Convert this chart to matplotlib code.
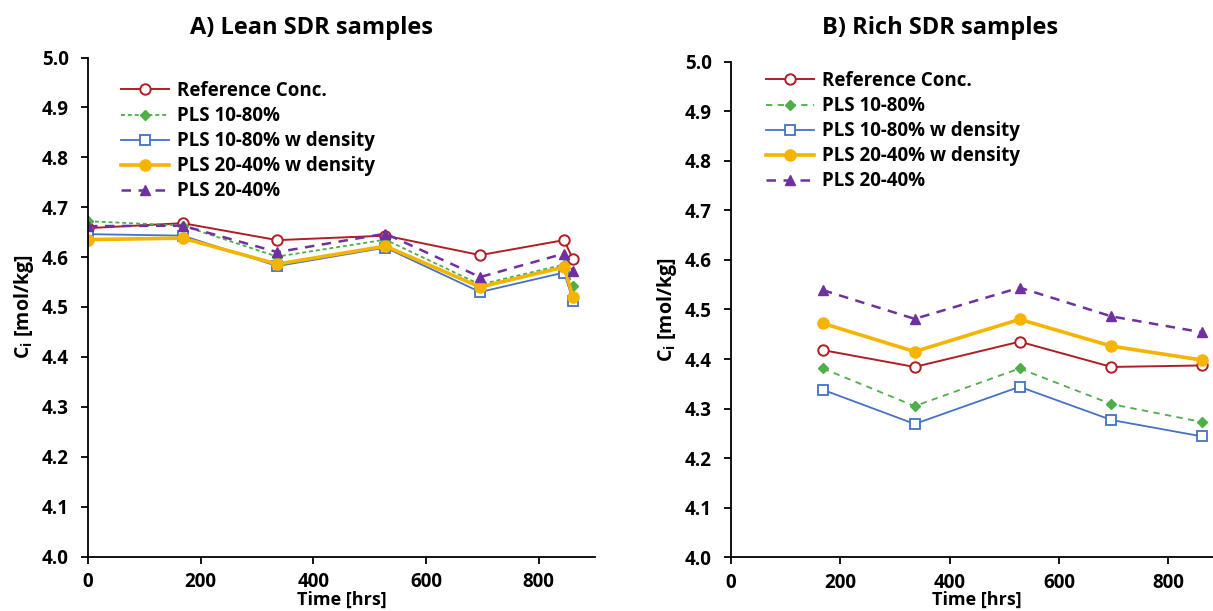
import matplotlib
matplotlib.use("Agg")
import matplotlib.pyplot as plt

FONT = ['Open Sans', 'DejaVu Sans']
plt.rcParams['font.family'] = FONT
plt.rcParams['font.weight'] = 'bold'
plt.rcParams['mathtext.fontset'] = 'custom'
plt.rcParams['mathtext.rm'] = 'Open Sans:bold'
plt.rcParams['mathtext.it'] = 'Open Sans:bold'
plt.rcParams['mathtext.bf'] = 'Open Sans:bold'

# ---- data -------------------------------------------------------------
lean_time = [0, 168, 336, 528, 696, 845, 861]
lean_ref = [4.658, 4.668, 4.634, 4.643, 4.604, 4.634, 4.596]
lean_pls1080 = [4.672, 4.663, 4.601, 4.635, 4.545, 4.585, 4.542]
lean_pls1080_dens = [4.646, 4.643, 4.582, 4.619, 4.530, 4.569, 4.513]
lean_pls2040_dens = [4.635, 4.638, 4.586, 4.622, 4.540, 4.580, 4.520]
lean_pls2040 = [4.662, 4.663, 4.610, 4.647, 4.560, 4.607, 4.573]

rich_time = [168, 336, 528, 696, 861]
rich_ref = [4.418, 4.384, 4.435, 4.384, 4.387]
rich_pls1080 = [4.381, 4.305, 4.381, 4.309, 4.273]
rich_pls1080_dens = [4.338, 4.269, 4.344, 4.277, 4.244]
rich_pls2040_dens = [4.472, 4.415, 4.480, 4.426, 4.398]
rich_pls2040 = [4.539, 4.481, 4.544, 4.486, 4.454]

series_labels = ["Reference Conc.", "PLS 10-80%", "PLS 10-80% w density",
                 "PLS 20-40% w density", "PLS 20-40%"]
y_ticks = [4.0, 4.1, 4.2, 4.3, 4.4, 4.5, 4.6, 4.7, 4.8, 4.9, 5.0]
x_ticks = [0, 200, 400, 600, 800]

RED = "#B01E23"
GREEN = "#4CAF48"
BLUE = "#4472C4"
YELLOW = "#F4B400"
PURPLE = "#7030A0"

W, H = 1213, 611
fig = plt.figure(figsize=(W / 100, H / 100), dpi=100)


def px_axes(x0, x1, ytop, ybot):
    return [x0 / W, 1 - ybot / H, (x1 - x0) / W, (ybot - ytop) / H]


def draw_panel(ax, t, ref, p1080, p1080d, p2040d, p2040, green_dash, purple_dash):
    ax.plot(t, ref, color=RED, lw=1.4, marker='o', ms=7.5, mfc='white',
            mec=RED, mew=1.4, label=series_labels[0])
    ax.plot(t, p1080, color=GREEN, lw=1.3, marker='D', ms=5, mfc=GREEN,
            mec=GREEN, dashes=green_dash, label=series_labels[1])
    ax.plot(t, p1080d, color=BLUE, lw=1.3, marker='s', ms=7, mfc='white',
            mec=BLUE, mew=1.3, label=series_labels[2])
    ax.plot(t, p2040d, color=YELLOW, lw=2.6, marker='o', ms=8, mfc=YELLOW,
            mec=YELLOW, label=series_labels[3])
    ax.plot(t, p2040, color=PURPLE, lw=1.8, marker='^', ms=7.5, mfc=PURPLE,
            mec=PURPLE, dashes=purple_dash, label=series_labels[4])

    ax.set_xlim(0, 900)
    ax.set_ylim(4.0, 5.0)
    ax.set_yticks(y_ticks)
    ax.set_yticklabels([f"{v:.1f}" for v in y_ticks])
    ax.set_xticks(x_ticks)
    ax.spines['top'].set_visible(False)
    ax.spines['right'].set_visible(False)
    for s in ('left', 'bottom'):
        ax.spines[s].set_linewidth(1.3)
        ax.spines[s].set_color('black')
    ax.tick_params(axis='both', direction='out', length=5, width=1.3,
                   labelsize=13.5, colors='black')
    ax.tick_params(axis='y', pad=9)
    ax.tick_params(axis='x', pad=6)
    for lbl in ax.get_xticklabels() + ax.get_yticklabels():
        lbl.set_fontweight('bold')
    ax.set_xlabel("Time [hrs]", fontsize=13, fontweight='bold', labelpad=-1)
    ax.set_ylabel(r"C$_{\mathrm{i}}$ [mol/kg]", fontsize=14, fontweight='bold',
                  labelpad=4)


ax1 = fig.add_axes(px_axes(88, 595, 57.5, 556.5))
draw_panel(ax1, lean_time, lean_ref, lean_pls1080, lean_pls1080_dens,
           lean_pls2040_dens, lean_pls2040, (2.2, 1.6), (3.8, 3.0))

ax2 = fig.add_axes(px_axes(731, 1223, 61.6, 557.3))
draw_panel(ax2, rich_time, rich_ref, rich_pls1080, rich_pls1080_dens,
           rich_pls2040_dens, rich_pls2040, (3.5, 3.0), (3.8, 3.0))

fig.text(311 / W, 1 - 28 / H, "A) Lean SDR samples", ha='center', va='center',
         fontsize=17, fontweight='bold')
fig.text(940 / W, 1 - 28 / H, "B) Rich SDR samples", ha='center', va='center',
         fontsize=17, fontweight='bold')

for ax, lx, ty in ((ax1, 121, 81), (ax2, 766, 71)):
    leg = ax.legend(loc='upper left', bbox_to_anchor=(lx / W, 1 - ty / H),
                    bbox_transform=fig.transFigure, frameon=False,
                    fontsize=13.5, handlelength=2.55, handletextpad=0.45,
                    labelspacing=0.27, borderpad=0, borderaxespad=0)
    for txt in leg.get_texts():
        txt.set_fontweight('bold')

fig.savefig("out.png", dpi=100)
